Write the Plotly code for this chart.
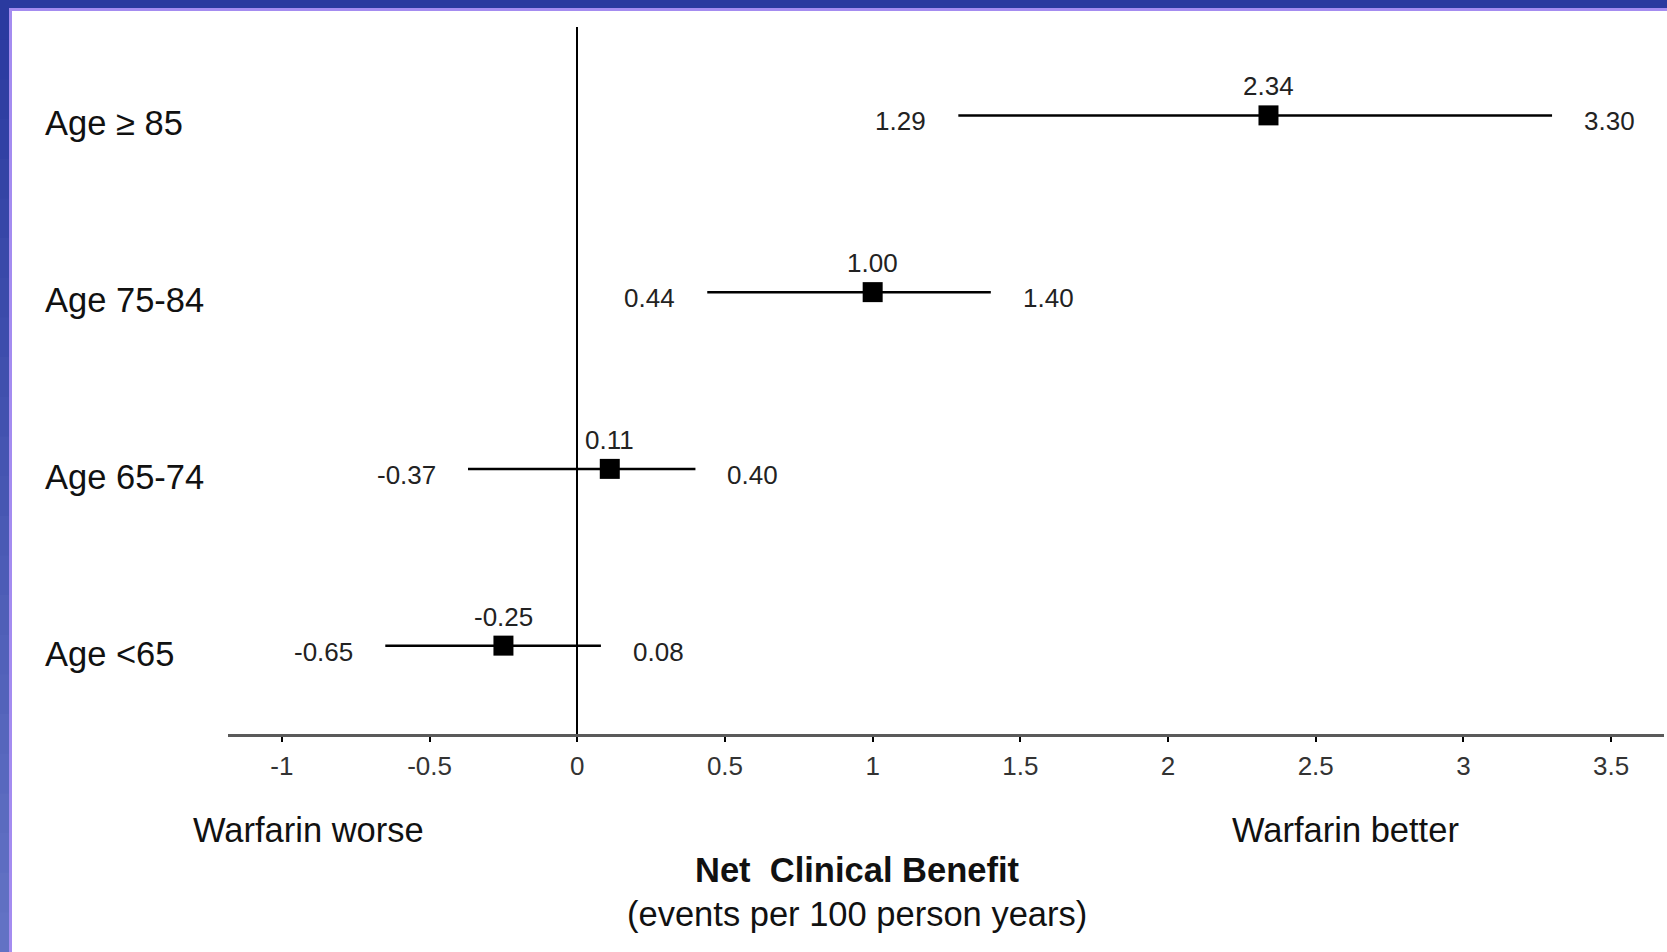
import plotly.graph_objects as go

# ---- data ----
categories = ["Age ≥ 85", "Age 75-84", "Age 65-74", "Age <65"]
estimates = [2.34, 1.00, 0.11, -0.25]
lower_ci = [1.29, 0.44, -0.37, -0.65]
upper_ci = [3.30, 1.40, 0.40, 0.08]
row_pos = [4, 3, 2, 1]
tick_vals = [-1, -0.5, 0, 0.5, 1, 1.5, 2, 2.5, 3, 3.5]
tick_text = ["-1", "-0.5", "0", "0.5", "1", "1.5", "2", "2.5", "3", "3.5"]

W, H = 1667, 952
ML, MR, MT, MB = 228, 3, 27, 218
PW, PH = W - ML - MR, H - MT - MB

FONT = "Liberation Sans, Arial, Helvetica, sans-serif"


def px(x):
    return (x - ML) / PW


def py(y):
    return (H - MB - y) / PH


fig = go.Figure()

fig.add_trace(go.Scatter(
    x=estimates,
    y=row_pos,
    mode="markers",
    marker=dict(symbol="square", size=20, color="black"),
    error_x=dict(
        type="data",
        symmetric=False,
        array=[u - e for u, e in zip(upper_ci, estimates)],
        arrayminus=[e - l for e, l in zip(estimates, lower_ci)],
        width=0,
        thickness=2.5,
        color="black",
    ),
    showlegend=False,
    hoverinfo="skip",
))

annotations = []
num_font = dict(family=FONT, size=26, color="#222222")
for cat, est, lo, hi, r in zip(categories, estimates, lower_ci, upper_ci, row_pos):
    annotations.append(dict(x=lo, y=r, xref="x", yref="y", text=f"{lo:.2f}",
                            showarrow=False, xanchor="right", yanchor="middle",
                            xshift=-30, yshift=-6, font=num_font))
    annotations.append(dict(x=hi, y=r, xref="x", yref="y", text=f"{hi:.2f}",
                            showarrow=False, xanchor="left", yanchor="middle",
                            xshift=30, yshift=-6, font=num_font))
    annotations.append(dict(x=est, y=r, xref="x", yref="y", text=f"{est:.2f}",
                            showarrow=False, xanchor="center", yanchor="middle",
                            yshift=29, font=num_font))
    annotations.append(dict(x=px(43), y=r, xref="paper", yref="y", text=cat,
                            showarrow=False, xanchor="left", yanchor="middle",
                            yshift=-8, font=dict(family=FONT, size=34.5, color="#111111")))

big_font = dict(family=FONT, size=34.5, color="#111111")
annotations += [
    dict(x=px(308), y=py(830), xref="paper", yref="paper", text="Warfarin worse",
         showarrow=False, xanchor="center", yanchor="middle", font=big_font),
    dict(x=px(1345), y=py(830), xref="paper", yref="paper", text="Warfarin better",
         showarrow=False, xanchor="center", yanchor="middle", font=big_font),
    dict(x=px(857), y=py(870), xref="paper", yref="paper", text="<b>Net  Clinical Benefit</b>",
         showarrow=False, xanchor="center", yanchor="middle", font=big_font),
    dict(x=px(857), y=py(914), xref="paper", yref="paper", text="(events per 100 person years)",
         showarrow=False, xanchor="center", yanchor="middle", font=big_font),
]

# ---- border frame ----
shapes = []
top_c = (42, 58, 159)
bot_c = (98, 114, 196)
n = 24
for i in range(n):
    t = i / (n - 1)
    c = tuple(int(round(a + (b - a) * t)) for a, b in zip(top_c, bot_c))
    y0 = H * i / n
    y1 = H * (i + 1) / n + 1
    shapes.append(dict(type="rect", xref="paper", yref="paper",
                       x0=px(0), x1=px(9), y0=py(y0), y1=py(y1),
                       fillcolor=f"rgb{c}", line_width=0, layer="above"))
shapes.append(dict(type="rect", xref="paper", yref="paper",
                   x0=px(9), x1=px(12), y0=py(8), y1=py(H),
                   fillcolor="#a48cf0", line_width=0, layer="above"))
shapes.append(dict(type="rect", xref="paper", yref="paper",
                   x0=px(0), x1=px(W), y0=py(0), y1=py(8),
                   fillcolor="rgb(42,58,159)", line_width=0, layer="above"))
shapes.append(dict(type="rect", xref="paper", yref="paper",
                   x0=px(9), x1=px(W), y0=py(8), y1=py(11),
                   fillcolor="#a48cf0", line_width=0, layer="above"))

fig.update_layout(
    width=W, height=H,
    margin=dict(l=ML, r=MR, t=MT, b=MB, pad=0),
    paper_bgcolor="white",
    plot_bgcolor="white",
    showlegend=False,
    annotations=annotations,
    shapes=shapes,
    xaxis=dict(
        range=[-1.1825, 3.679],
        tickvals=tick_vals,
        ticktext=tick_text,
        showgrid=False,
        zeroline=True,
        zerolinecolor="black",
        zerolinewidth=2,
        showline=True,
        linecolor="#5a5a5a",
        linewidth=3,
        ticks="outside",
        ticklen=5,
        tickwidth=1.5,
        tickcolor="black",
        ticklabelstandoff=2,
        tickfont=dict(family=FONT, size=26, color="#333333"),
        fixedrange=True,
    ),
    yaxis=dict(
        range=[0.5, 4.5],
        showgrid=False,
        zeroline=False,
        showline=False,
        showticklabels=False,
        ticks="",
        fixedrange=True,
    ),
)

fig.write_html(
    "out.html",
    config={"displayModeBar": False},
    post_script="document.body.style.margin='0px';document.body.style.padding='0px';",
)
